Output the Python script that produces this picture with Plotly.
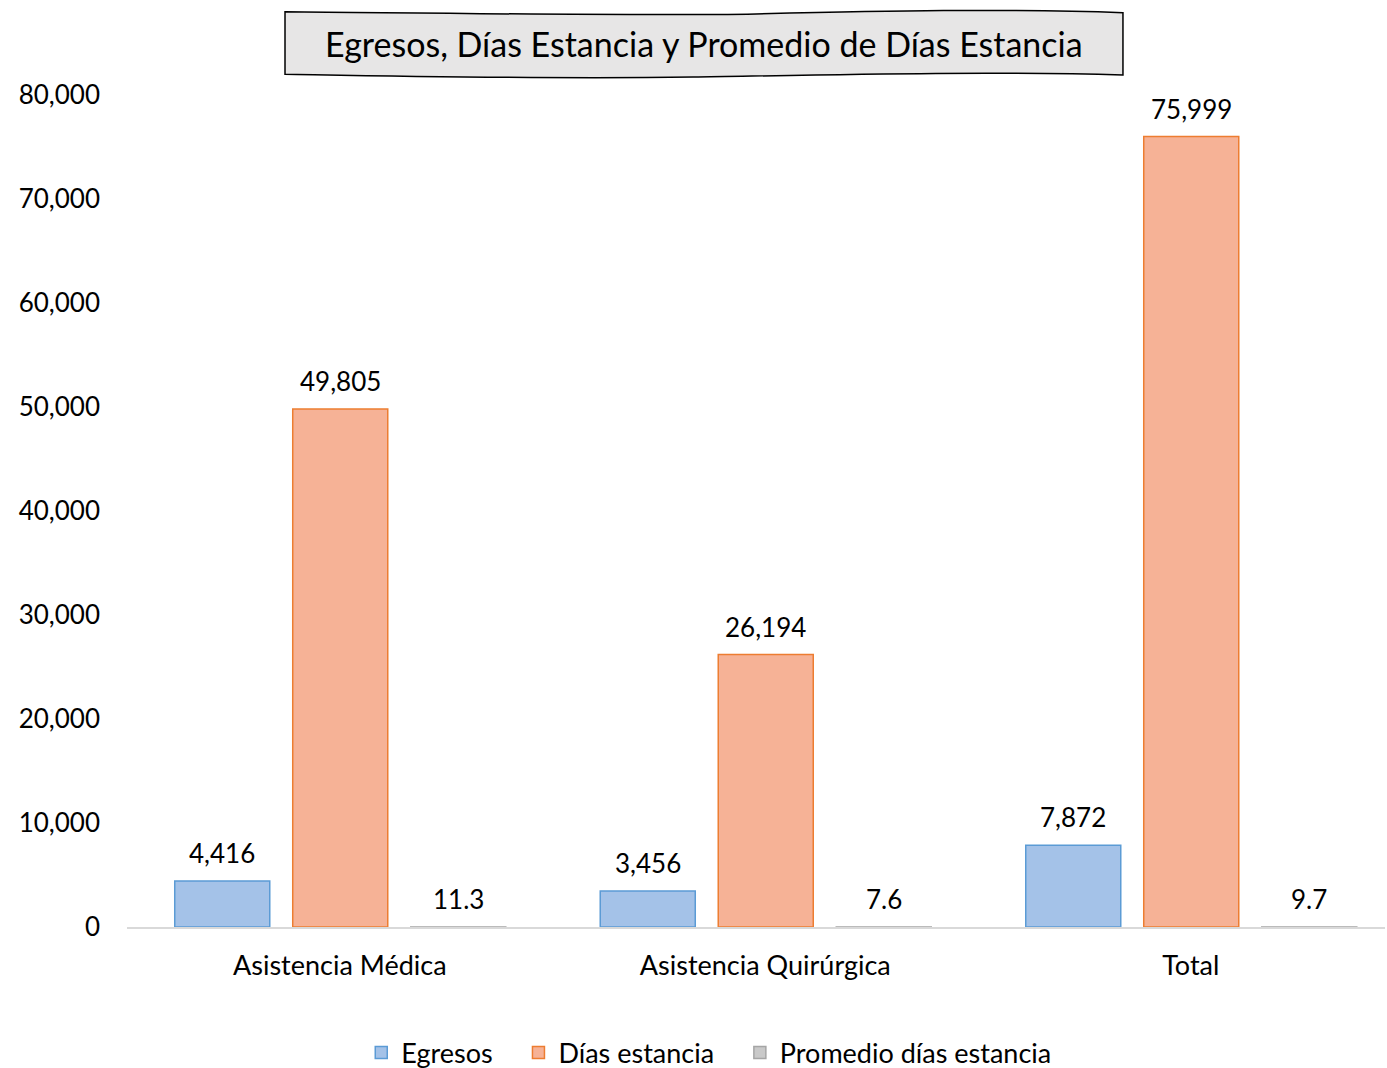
import plotly.graph_objects as go

# --- data ---
categories = ["Asistencia Médica", "Asistencia Quirúrgica", "Total"]
egresos = [4416, 3456, 7872]
dias_estancia = [49805, 26194, 75999]
promedio_dias = [11.3, 7.6, 9.7]

FONT = "Lato, 'Open Sans', sans-serif"
TEXT = "#000000"
BAR_W = 0.2233
NBSP = "\u00a0"

series = [
    # name, values, fill, border, offset (category units), label format, legend padding
    ("Egresos", egresos, "#a4c2e8", "#5b9bd5", -0.3878, "{:,.0f}", 3),
    ("Días estancia", dias_estancia, "#f6b296", "#ed7d31", -0.1105, "{:,.0f}", 3),
    ("Promedio días estancia", promedio_dias, "#c9c9c9", "#a5a5a5", 0.1669, "{:.1f}", 0),
]

fig = go.Figure()
labels = []
for name, vals, fill, border, off, fmt, pad in series:
    fig.add_trace(
        go.Bar(
            x=categories,
            y=vals,
            name=name + NBSP * pad,
            offset=off,
            width=BAR_W,
            marker=dict(color=fill, line=dict(color=border, width=1.5)),
            hovertemplate="<b>%{x}</b><br>" + name + ": %{y:,}<extra></extra>",
        )
    )
    # data labels sit a little higher above the bar than plotly's own outside text
    for i, v in enumerate(vals):
        labels.append(
            dict(
                x=i + off + BAR_W / 2,
                y=v,
                xref="x",
                yref="y",
                text=fmt.format(v),
                showarrow=False,
                xanchor="center",
                yanchor="middle",
                yshift=28,
                font=dict(size=26, color=TEXT, family=FONT),
            )
        )

# wavy title box, in paper coords of the plot area
title_box = (
    "M 0.1256 1.1000 "
    "C 0.30 1.0975, 0.42 1.0950, 0.50 1.0975 "
    "C 0.60 1.1010, 0.70 1.1040, 0.7917 1.0990 "
    "L 0.7917 1.0240 "
    "C 0.68 1.0290, 0.55 1.0240, 0.45 1.0215 "
    "C 0.32 1.0190, 0.20 1.0230, 0.1256 1.0250 Z"
)

labels.append(
    dict(
        text="Egresos, Días Estancia y Promedio de Días Estancia",
        x=0.4587,
        y=1.0625,
        xref="paper",
        yref="paper",
        xanchor="center",
        yanchor="middle",
        showarrow=False,
        font=dict(size=34, color=TEXT, family=FONT),
    )
)

fig.update_layout(
    barmode="overlay",
    width=1387,
    height=1068,
    margin=dict(l=127, r=2, t=95, b=141, autoexpand=False),
    plot_bgcolor="white",
    paper_bgcolor="white",
    font=dict(family=FONT, size=26, color=TEXT),
    showlegend=True,
    legend=dict(
        orientation="h",
        xref="container",
        yref="container",
        x=0.511,
        xanchor="center",
        y=0.014,
        yanchor="middle",
        font=dict(size=27, color=TEXT, family=FONT),
        traceorder="normal",
        itemwidth=30,
    ),
    shapes=[
        dict(
            type="path",
            path=title_box,
            xref="paper",
            yref="paper",
            fillcolor="#e7e6e6",
            line=dict(color="#000000", width=1.5),
            layer="above",
        )
    ],
    annotations=labels,
)

fig.update_xaxes(
    range=[-0.5, 2.4565],
    showgrid=False,
    showline=True,
    linecolor="#d9d9d9",
    linewidth=1.5,
    ticks="",
    tickfont=dict(size=27, color=TEXT),
    ticklabelstandoff=14,
    automargin=False,
)
fig.update_yaxes(
    range=[0, 80000],
    dtick=10000,
    tickformat=",d",
    showgrid=False,
    zeroline=False,
    showline=False,
    ticks="",
    tickfont=dict(size=26, color=TEXT),
    ticklabelstandoff=26,
    automargin=False,
)

fig.write_html(
    "out.html",
    config={"displayModeBar": False},
    post_script="document.body.style.margin='0';",
)
